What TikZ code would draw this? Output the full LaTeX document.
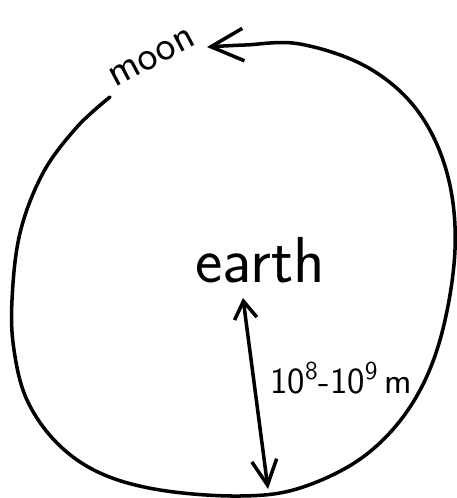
\documentclass[tikz,border=0pt]{standalone}
\usepackage{tikz}
\usetikzlibrary{arrows.meta}

\begin{document}
\begin{tikzpicture}[
  x=0.2mm, y=-0.2mm,
  lbl/.style={font=\sffamily, inner sep=0pt},
  orbit/.style={draw=black, line width=2pt, line cap=round, line join=round},
  radius/.style={draw=black, line width=2pt, line cap=round}
]
\useasboundingbox (0,0) rectangle (457,498);

\node[lbl, anchor=base, font=\sffamily\fontsize{37}{44}\selectfont] (earth) at (260,282) {earth};
\node[lbl, rotate=28, font=\sffamily\fontsize{24}{28}\selectfont] (moon) at (152,58) {moon};
\node[lbl, anchor=base west, font=\sffamily\fontsize{21}{25}\selectfont] (dist) at (270,393) {10\textsuperscript{8}-10\textsuperscript{9}\,m};

\coordinate (r0) at (243,298);
\coordinate (r1) at (268,489);

% orbit of the moon
\draw[orbit, -{Straight Barb[length=6.5mm, width=6.5mm]}]
  plot[smooth, tension=0.6] coordinates {
    (110,97) (77,127) (43,173) (20,233) (12,300) (14,350) (27,400)
    (57,443) (100,473) (160,490) (240,496) (300,488) (363,457)
    (410,407) (440,340) (455,250) (447,173) (417,110) (367,67)
    (300,44) (245,45) (207,47)};

% distance earth--moon
\draw[radius, {Straight Barb[length=3.5mm, width=4.5mm]}-{Straight Barb[length=5mm, width=5mm]}] (r0) -- (r1);

\end{tikzpicture}
\end{document}
